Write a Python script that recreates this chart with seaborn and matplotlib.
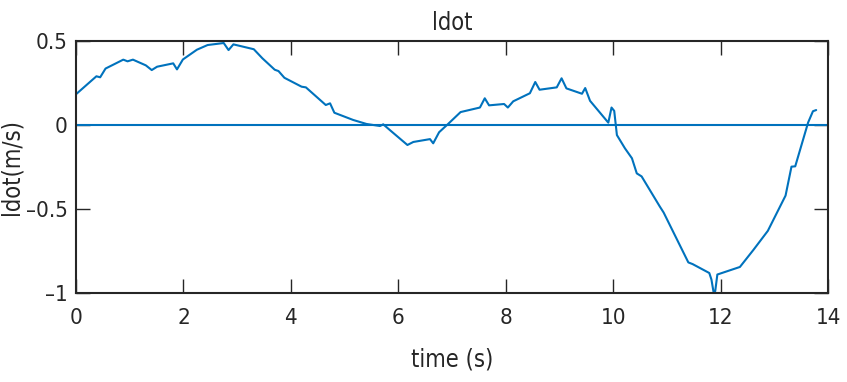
import matplotlib
matplotlib.use("Agg")
import matplotlib.pyplot as plt
import seaborn as sns
import pandas as pd

# time samples (s) and length rate ldot (m/s)
time_s = [0.0, 0.38, 0.45, 0.55, 0.88, 0.96, 1.06, 1.30, 1.41, 1.51,
          1.81, 1.88, 1.99, 2.25, 2.45, 2.75, 2.84, 2.93, 3.31, 3.47,
          3.70, 3.77, 3.88, 4.20, 4.28, 4.65, 4.73, 4.81, 5.16, 5.41,
          5.66, 5.72, 5.85, 6.17, 6.28, 6.59, 6.65, 6.76, 6.93, 7.16,
          7.52, 7.61, 7.69, 7.97, 8.04, 8.14, 8.45, 8.55, 8.63, 8.95,
          9.04, 9.13, 9.42, 9.48, 9.57, 9.91, 9.97, 10.02, 10.07, 10.22,
          10.35, 10.44, 10.53, 10.87, 10.94, 11.40, 11.48, 11.79, 11.83, 11.87,
          11.90, 11.94, 12.36, 12.61, 12.88, 13.21, 13.32, 13.39, 13.63, 13.72,
          13.78]
ldot = [0.183, 0.29, 0.284, 0.336, 0.389, 0.379, 0.389, 0.355, 0.327, 0.347,
        0.367, 0.331, 0.39, 0.448, 0.476, 0.488, 0.446, 0.48, 0.451, 0.397,
        0.329, 0.321, 0.281, 0.228, 0.224, 0.119, 0.129, 0.073, 0.03, 0.006,
        -0.006, 0.004, -0.032, -0.119, -0.101, -0.084, -0.109, -0.043, 0.007, 0.077,
        0.104, 0.159, 0.117, 0.125, 0.104, 0.141, 0.189, 0.256, 0.21, 0.224,
        0.278, 0.218, 0.186, 0.22, 0.144, 0.014, 0.104, 0.084, -0.06, -0.139,
        -0.198, -0.288, -0.306, -0.486, -0.521, -0.818, -0.828, -0.881, -0.92, -0.996,
        -0.99, -0.89, -0.845, -0.744, -0.63, -0.42, -0.248, -0.246, 0.015, 0.082,
        0.089]
reference_level = 0.0

x_ticks = [0, 2, 4, 6, 8, 10, 12, 14]
y_ticks = [-1, -0.5, 0, 0.5]
y_tick_labels = ["\u20131", "\u20130.5", "0", "0.5"]

sns.set_theme(style="ticks")
plt.rcParams["font.family"] = ["DejaVu Sans"]
plt.rcParams["font.stretch"] = "condensed"

blue = "#0072BD"
ink = "#262626"
tick_fs = 16
label_fs = 17

fig = plt.figure(figsize=(8.47, 3.82), dpi=100)
ax = fig.add_axes([76 / 847, 1 - 293 / 382, 752 / 847, 252 / 382])

df = pd.DataFrame({"time": time_s, "ldot": ldot})
sns.lineplot(data=df, x="time", y="ldot", ax=ax, color=blue, linewidth=1.5,
             sort=False, estimator=None)
ax.axhline(reference_level, color=blue, linewidth=1.5)

ax.set_xlim(0, 14)
ax.set_ylim(-1, 0.5)
ax.set_xticks(x_ticks)
ax.set_xticklabels([str(t) for t in x_ticks])
ax.set_yticks(y_ticks)
ax.set_yticklabels(y_tick_labels)

ax.tick_params(axis="both", direction="in", length=10, width=1.0, color=ink,
               labelsize=tick_fs, labelcolor=ink, top=True, right=True)
ax.tick_params(axis="x", pad=11)
ax.tick_params(axis="y", pad=6)
for s in ax.spines.values():
    s.set_visible(True)
    s.set_color(ink)
    s.set_linewidth(1.5)

ax.set_title("ldot", fontsize=label_fs, color=ink, pad=8)
ax.set_xlabel("time (s)", fontsize=label_fs, color=ink)
ax.set_ylabel("ldot(m/s)", fontsize=label_fs, color=ink)
ax.xaxis.set_label_coords(0.5, -0.215)
ax.yaxis.set_label_coords(-0.07, 0.5)

fig.savefig("out.png", dpi=100)
